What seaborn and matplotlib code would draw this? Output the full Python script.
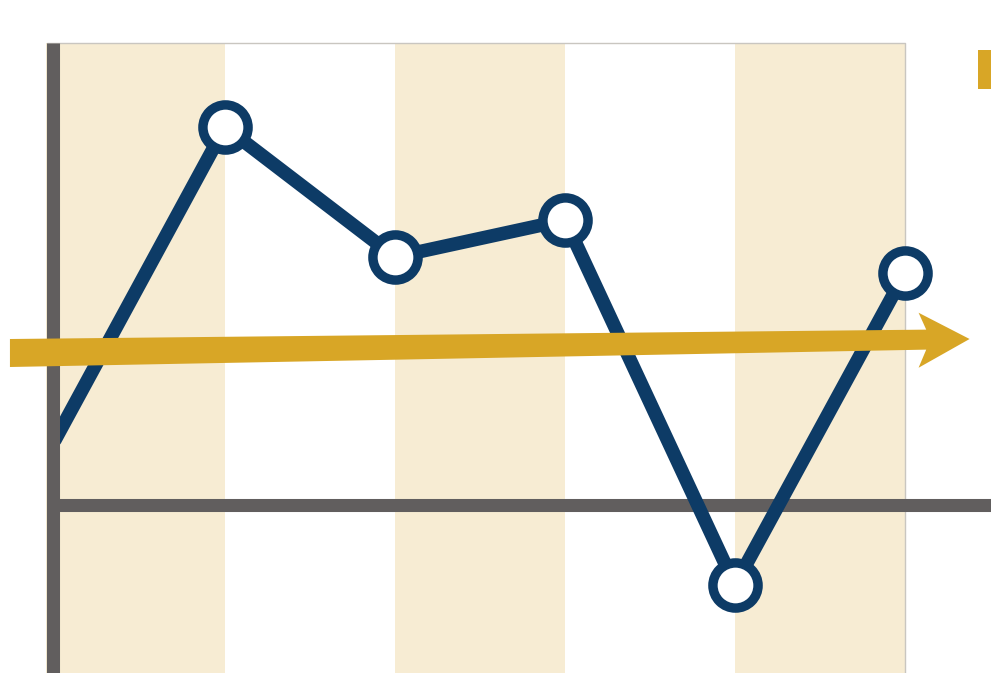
import matplotlib
matplotlib.use("Agg")
import matplotlib.pyplot as plt
import seaborn as sns
import numpy as np
import pandas as pd
from matplotlib.patches import Polygon, Rectangle

# ---- data ----
periods = [0, 1, 2, 3, 4, 5]
values = [0.63, 3.76, 2.46, 2.83, -0.82, 2.30]
marker_periods = [1, 2, 3, 4, 5]
marker_values = [3.76, 2.46, 2.83, -0.82, 2.30]
stripe_starts = [-0.05, 2, 4]
stripe_ends = [1, 3, 5]
trend_x = [-0.265, 5.38]      # arrow tail start, arrow tip
trend_y = [1.50, 1.64]
legend_swatch_x = [5.43, 5.51]
legend_swatch_y = [4.14, 4.53]

NAVY = "#0d3b66"
GOLD = "#d8a626"
BEIGE = "#f7ecd3"
GRAY = "#615e5e"

sns.set_theme(style="white")
fig = plt.figure(figsize=(9.91, 6.73), dpi=100)
ax = fig.add_axes([0, 0, 1, 1])
ax.set_xlim(-0.3235, 5.506)
ax.set_ylim(-1.70, 5.03)
ax.axis("off")

box_left, box_right, box_top, box_bottom = -0.047, 5.0, 4.60, -1.70

# stripes
for s, e in zip(stripe_starts, stripe_ends):
    ax.fill_between([s, e], box_bottom, box_top, color=BEIGE, lw=0, zorder=0)

# thin box border
ax.plot([box_left, box_right, box_right], [box_top, box_top, box_bottom],
        color="#c9c6c0", lw=1.0, zorder=1)

# zero line
ax.plot([box_left, 5.506], [-0.015, -0.015], color=GRAY, lw=9.4,
        solid_capstyle="butt", zorder=2)

# main line
df = pd.DataFrame({"period": periods, "value": values})
sns.lineplot(data=df, x="period", y="value", ax=ax, color=NAVY, lw=9.8,
             zorder=3, legend=False, sort=False)
mdf = pd.DataFrame({"period": marker_periods, "value": marker_values})
sns.scatterplot(data=mdf, x="period", y="value", ax=ax, s=32.5**2,
                facecolor="white", edgecolor=NAVY, linewidth=6.8,
                zorder=4, legend=False)
ax.set_xlabel("")
ax.set_ylabel("")

# vertical axis bar
ax.plot([-0.0088, -0.0088], [box_bottom, box_top], color=GRAY, lw=9.4,
        solid_capstyle="butt", zorder=4.5)

# trend arrow (tapered tail with arrowhead)
x0, x1 = trend_x
y0, y1 = trend_y
head_len = 0.30
neck = x1 - head_len + 0.045
slope = (y1 - y0) / (x1 - x0)
yn = y0 + slope * (neck - x0)
yb = y0 + slope * (x1 - head_len - x0)
verts = [
    (x0, y0 + 0.14),
    (neck, yn + 0.10),
    (x1 - head_len, yb + 0.27),
    (x1, y1),
    (x1 - head_len, yb - 0.28),
    (neck, yn - 0.10),
    (x0, y0 - 0.14),
]
ax.add_patch(Polygon(verts, closed=True, facecolor=GOLD, edgecolor="none", zorder=6))

# legend swatch (cropped)
ax.add_patch(Rectangle((legend_swatch_x[0], legend_swatch_y[0]),
                       legend_swatch_x[1] - legend_swatch_x[0],
                       legend_swatch_y[1] - legend_swatch_y[0],
                       facecolor=GOLD, edgecolor="none", zorder=6))

fig.savefig("out.png", dpi=100)
